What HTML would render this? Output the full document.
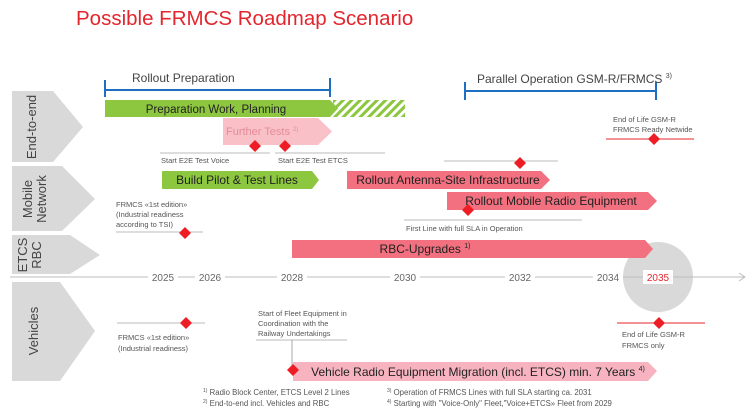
<!DOCTYPE html>
<html><head><meta charset="utf-8"><style>
html,body{margin:0;padding:0;background:#fff;}
svg{display:block;font-family:"Liberation Sans",Arial,sans-serif;}
</style></head><body>
<svg width="750" height="419" viewBox="0 0 750 419" xmlns="http://www.w3.org/2000/svg">
<defs>
<pattern id="hatch" width="6" height="6" patternUnits="userSpaceOnUse" patternTransform="rotate(45)">
<rect width="3" height="6" fill="#8dc63f"/>
</pattern>
</defs>
<text x="76" y="25" font-size="20.5" fill="#e3262e">Possible FRMCS Roadmap Scenario</text>

<!-- left chevrons -->
<polygon points="12,91 53,91 83,127 53,162 12,162" fill="#d9d9d9"/>
<polygon points="12,166 62,166 95,199 62,231 12,231" fill="#d9d9d9"/>
<polygon points="12,235 70,235 100,255 70,274 12,274" fill="#d9d9d9"/>
<polygon points="12,282 60,282 95,331 60,381 12,381" fill="#d9d9d9"/>
<text transform="translate(36,127) rotate(-90)" font-size="13" fill="#444" text-anchor="middle">End-to-end</text>
<text transform="translate(32,199) rotate(-90)" font-size="13" fill="#444" text-anchor="middle">Mobile</text>
<text transform="translate(46,199) rotate(-90)" font-size="13" fill="#444" text-anchor="middle">Network</text>
<text transform="translate(27,255) rotate(-90)" font-size="13" fill="#444" text-anchor="middle">ETCS</text>
<text transform="translate(41,255) rotate(-90)" font-size="13" fill="#444" text-anchor="middle">RBC</text>
<text transform="translate(38,331) rotate(-90)" font-size="13" fill="#444" text-anchor="middle">Vehicles</text>

<!-- axis -->
<circle cx="658" cy="277" r="35" fill="#d9d9d9"/>
<line x1="10" y1="277" x2="744" y2="277" stroke="#bdbdbd" stroke-width="1"/>
<polyline points="739,273 745,277 739,281" fill="none" stroke="#bdbdbd"/>
<g font-size="10" fill="#666" text-anchor="middle">
<rect x="148" y="270" width="30" height="14" fill="#fff"/><text x="163" y="281">2025</text>
<rect x="195" y="270" width="30" height="14" fill="#fff"/><text x="210" y="281">2026</text>
<rect x="277" y="270" width="30" height="14" fill="#fff"/><text x="292" y="281">2028</text>
<rect x="390" y="270" width="30" height="14" fill="#fff"/><text x="405" y="281">2030</text>
<rect x="505" y="270" width="30" height="14" fill="#fff"/><text x="520" y="281">2032</text>
<rect x="593" y="270" width="30" height="14" fill="#fff"/><text x="608" y="281">2034</text>
<rect x="643" y="270" width="30" height="14" fill="#fff"/><text x="658" y="281" fill="#e3262e">2035</text>
</g>

<!-- brackets -->
<g stroke="#1f6fc0" stroke-width="2">
<line x1="105" y1="90" x2="330" y2="90"/><line x1="105" y1="80" x2="105" y2="97"/><line x1="330" y1="78" x2="330" y2="97"/>
<line x1="465" y1="91" x2="656" y2="91"/><line x1="465" y1="82" x2="465" y2="100"/><line x1="656" y1="82" x2="656" y2="100"/>
</g>
<text x="132" y="82" font-size="12" fill="#444">Rollout Preparation</text>
<text x="477" y="83" font-size="12" fill="#444">Parallel Operation GSM-R/FRMCS <tspan font-size="7" dy="-5">3)</tspan></text>

<!-- End-to-end -->
<polygon points="333,100 405,100 405,117 333,117" fill="url(#hatch)"/>
<polygon points="105,100 330,100 338,108.5 330,117 105,117" fill="#8dc63f"/>
<text x="216" y="113" font-size="11.5" fill="#222" text-anchor="middle">Preparation Work, Planning</text>
<polygon points="223,118 318,118 332,131.5 318,145 223,145" fill="#f9c0c8"/>
<text x="226" y="135" font-size="11" fill="#e58b98">Further Tests <tspan font-size="6" dy="-4">2)</tspan></text>
<line x1="160" y1="153" x2="270" y2="153" stroke="#bbb"/>
<line x1="275" y1="153" x2="385" y2="153" stroke="#bbb"/>
<text x="161" y="163" font-size="7.5" fill="#555">Start E2E Test Voice</text>
<text x="278" y="163" font-size="7.5" fill="#555">Start E2E Test ETCS</text>
<line x1="606" y1="139" x2="694" y2="139" stroke="#e3262e"/>
<text x="613" y="122" font-size="7.5" fill="#555">End of Life GSM-R</text>
<text x="613" y="132" font-size="7.5" fill="#555">FRMCS Ready Netwide</text>

<!-- Mobile network -->
<polygon points="162,171 312,171 319,180 312,189 162,189" fill="#8dc63f"/>
<text x="237" y="184" font-size="12" fill="#222" text-anchor="middle">Build Pilot &amp; Test Lines</text>
<line x1="444" y1="161" x2="558" y2="161" stroke="#bbb"/>
<polygon points="347,171 541,171 550,180 541,189 347,189" fill="#f2707f"/>
<text x="448" y="184" font-size="12" fill="#222" text-anchor="middle">Rollout Antenna-Site Infrastructure</text>
<polygon points="447,192 648,192 657,201 648,210 447,210" fill="#f2707f"/>
<text x="551" y="205" font-size="12" fill="#222" text-anchor="middle">Rollout Mobile Radio Equipment</text>
<line x1="404" y1="220" x2="582" y2="220" stroke="#bbb"/>
<text x="406" y="231" font-size="7.5" fill="#555">First Line with full SLA in Operation</text>
<text x="116" y="207" font-size="7.5" fill="#555">FRMCS «1st edition»</text>
<text x="116" y="217" font-size="7.5" fill="#555">(Industrial readiness</text>
<text x="116" y="227" font-size="7.5" fill="#555">according to TSI)</text>
<line x1="116" y1="232" x2="203" y2="232" stroke="#bbb"/>

<!-- RBC -->
<polygon points="292,240 645,240 653,249 645,258 292,258" fill="#f2707f"/>
<text x="425" y="253" font-size="12" fill="#222" text-anchor="middle">RBC-Upgrades <tspan font-size="7" dy="-5">1)</tspan></text>

<!-- Vehicles -->
<line x1="117" y1="323" x2="205" y2="323" stroke="#bbb"/>
<text x="118" y="340" font-size="7.5" fill="#555">FRMCS «1st edition»</text>
<text x="118" y="351" font-size="7.5" fill="#555">(Industrial readiness)</text>
<text x="258" y="316" font-size="7.5" fill="#555">Start of Fleet Equipment in</text>
<text x="258" y="326" font-size="7.5" fill="#555">Coordination with the</text>
<text x="258" y="336" font-size="7.5" fill="#555">Railway Undertakings</text>
<line x1="256" y1="340" x2="347" y2="340" stroke="#bbb"/>
<line x1="292" y1="340" x2="292" y2="368" stroke="#aaa"/>
<polygon points="293,362 648,362 657,371 648,381 293,381" fill="#f7b4c0"/>
<text x="478" y="376" font-size="12" fill="#222" text-anchor="middle">Vehicle Radio Equipment Migration (incl. ETCS) min. 7 Years <tspan font-size="7" dy="-5">4)</tspan></text>
<line x1="617" y1="323" x2="705" y2="323" stroke="#e3262e"/>
<text x="622" y="337" font-size="7.5" fill="#555">End of Life GSM-R</text>
<text x="622" y="348" font-size="7.5" fill="#555">FRMCS only</text>

<!-- diamonds -->
<g fill="#ee1c24">
<polygon points="255,140 261,146 255,152 249,146"/>
<polygon points="285,140 291,146 285,152 279,146"/>
<polygon points="520,157 526,163 520,169 514,163"/>
<polygon points="468,204 474,210 468,216 462,210"/>
<polygon points="654,133 660,139 654,145 648,139"/>
<polygon points="185,227 191,233 185,239 179,233"/>
<polygon points="186,317 192,323 186,329 180,323"/>
<polygon points="293,364 299,370 293,376 287,370"/>
<polygon points="659,317 665,323 659,329 653,323"/>
</g>

<!-- footnotes -->
<g font-size="7.8" fill="#555">
<text x="203" y="395"><tspan font-size="5" dy="-3">1)</tspan><tspan dy="3"> Radio Block Center, ETCS Level 2 Lines</tspan></text>
<text x="203" y="406"><tspan font-size="5" dy="-3">2)</tspan><tspan dy="3"> End-to-end incl. Vehicles and RBC</tspan></text>
<text x="387" y="395"><tspan font-size="5" dy="-3">3)</tspan><tspan dy="3"> Operation of FRMCS Lines with full SLA starting ca. 2031</tspan></text>
<text x="387" y="406"><tspan font-size="5" dy="-3">4)</tspan><tspan dy="3"> Starting with "Voice-Only" Fleet,"Voice+ETCS» Fleet from 2029</tspan></text>
</g>
</svg>
</body></html>
